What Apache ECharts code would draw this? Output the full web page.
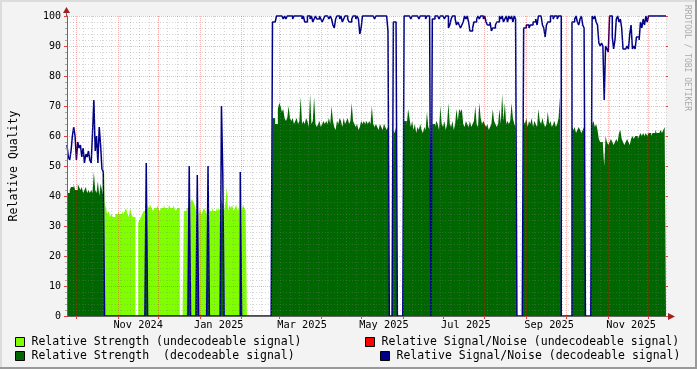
<!DOCTYPE html>
<html><head><meta charset="utf-8">
<script src="https://cdn.jsdelivr.net/npm/echarts@6/dist/echarts.min.js"></script>
<style>html,body{margin:0;padding:0;background:#F3F3F3}#c{width:697px;height:369px}</style>
</head><body><div id="c"></div>
<script>
// ---- data (one value per day, starting at firstDay) ----
const firstDay = '2024-09-24';
const dayCount = 447;
const monthLabels = ['Nov 2024','Jan 2025','Mar 2025','May 2025','Jul 2025','Sep 2025','Nov 2025'];
const monthLabelDays = ['2024-11-16','2025-01-15','2025-03-18','2025-05-18','2025-07-18','2025-09-18','2025-11-18'];
const seriesNames = [
  'Relative Strength (undecodeable signal)',
  'Relative Signal/Noise (undecodeable signal)',
  'Relative Strength  (decodeable signal)',
  'Relative Signal/Noise (decodeable signal)'
];
const strengthUndecoded = [
/*0*/ 0,0,0,0,0,0,0,0,0,0,
/*10*/ 0,0,0,0,0,0,0,0,0,0,
/*20*/ 0,0,0,0,0,0,0,64,38,36,
/*30*/ 34,35,33,34,33,33,34,34,35,34,
/*40*/ 34,35,34,35,36,34,33,36,34,33,
/*50*/ 33,0,0,31,32,33,34,35,35,0,
/*60*/ 37,36,37,36,35,36,36,37,36,35,
/*70*/ 36,36,37,36,36,35,37,36,36,37,
/*80*/ 36,35,36,36,0,0,0,35,35,36,
/*90*/ 36,0,38,39,38,37,35,0,34,36,
/*100*/ 34,35,36,35,34,0,35,35,36,35,
/*110*/ 35,36,35,36,35,0,0,35,38,43,
/*120*/ 35,37,36,37,35,36,37,35,36,0,
/*130*/ 35,37,36,35,0,0,0,0,0,0
];
const snrUndecoded = [];
const strengthDecoded = [
/*0*/ 41,41,42,43,43,44,42,42,44,43,
/*10*/ 42,43,41,42,43,41,42,41,42,41,
/*20*/ 48,42,41,45,40,44,42,40,0,0,
/*30*/ 0,0,0,0,0,0,0,0,0,0,
/*40*/ 0,0,0,0,0,0,0,0,0,0,
/*50*/ 0,0,0,0,0,0,0,0,0,38,
/*60*/ 0,0,0,0,0,0,0,0,0,0,
/*70*/ 0,0,0,0,0,0,0,0,0,0,
/*80*/ 0,0,0,0,0,0,0,0,0,0,
/*90*/ 0,37,0,0,0,0,0,36,0,0,
/*100*/ 0,0,0,0,0,36,0,0,0,0,
/*110*/ 0,0,0,0,0,39,37,0,0,0,
/*120*/ 0,0,0,0,0,0,0,0,0,36,
/*130*/ 0,0,0,0,0,0,0,0,0,0,
/*140*/ 0,0,0,0,0,0,0,0,0,0,
/*150*/ 0,0,0,66,66,64,64,69,71,70,
/*160*/ 68,69,66,65,66,70,66,65,66,64,
/*170*/ 65,66,64,65,73,64,65,64,66,65,
/*180*/ 63,74,64,65,73,64,63,64,65,63,
/*190*/ 64,65,64,65,64,66,64,70,65,63,
/*200*/ 62,65,64,66,65,63,66,64,65,66,
/*210*/ 64,65,71,65,64,63,64,62,63,65,
/*220*/ 64,65,64,65,64,65,64,70,64,63,
/*230*/ 64,63,62,64,63,62,64,63,62,63,
/*240*/ 0,0,0,62,61,63,0,0,0,0,
/*250*/ 0,65,65,64,69,66,63,65,62,64,
/*260*/ 61,63,62,64,62,61,63,62,68,63,
/*270*/ 62,0,64,64,63,65,64,62,70,64,
/*280*/ 63,65,62,64,71,64,63,65,62,64,
/*290*/ 69,65,69,68,69,64,63,65,64,63,
/*300*/ 65,63,64,65,70,64,63,71,66,64,
/*310*/ 65,64,63,64,62,63,64,69,65,64,
/*320*/ 63,64,69,64,74,65,71,64,65,64,
/*330*/ 65,71,66,64,63,0,0,0,0,0,
/*340*/ 65,64,66,63,65,64,66,63,65,64,
/*350*/ 63,69,65,64,66,64,63,64,68,64,
/*360*/ 65,63,64,65,63,64,66,73,0,0,
/*370*/ 0,0,0,0,0,0,63,62,63,61,
/*380*/ 62,63,62,61,62,63,0,0,0,0,
/*390*/ 0,64,65,63,64,62,59,58,58,57,
/*400*/ 50,60,58,57,58,59,58,57,58,59,
/*410*/ 58,61,62,59,58,57,58,59,58,57,
/*420*/ 59,60,59,60,60,59,60,61,60,61,
/*430*/ 60,61,60,61,61,60,61,61,62,61,
/*440*/ 61,61,62,61,62,63,63
];
const snrDecoded = [
/*0*/ 57,53,52,55,60,63,60,52,58,56,
/*10*/ 57,53,56,51,54,53,55,52,51,61,
/*20*/ 72,55,60,51,63,57,49,48,0,0,
/*30*/ 0,0,0,0,0,0,0,0,0,0,
/*40*/ 0,0,0,0,0,0,0,0,0,0,
/*50*/ 0,0,0,0,0,0,0,0,0,51,
/*60*/ 0,0,0,0,0,0,0,0,0,0,
/*70*/ 0,0,0,0,0,0,0,0,0,0,
/*80*/ 0,0,0,0,0,0,0,0,0,0,
/*90*/ 0,50,0,0,0,0,0,47,0,0,
/*100*/ 0,0,0,0,0,50,0,0,0,0,
/*110*/ 0,0,0,0,0,70,47,0,0,0,
/*120*/ 0,0,0,0,0,0,0,0,0,48,
/*130*/ 0,0,0,0,0,0,0,0,0,0,
/*140*/ 0,0,0,0,0,0,0,0,0,0,
/*150*/ 0,0,0,98,98,98,100,100,100,100,
/*160*/ 100,99,100,99,100,100,100,100,99,100,
/*170*/ 100,100,100,100,100,99,100,98,98,100,
/*180*/ 100,99,100,98,99,100,99,99,100,99,
/*190*/ 98,99,100,100,100,99,100,99,97,96,
/*200*/ 99,100,100,99,100,98,99,100,100,99,
/*210*/ 98,98,99,100,100,99,100,99,94,96,
/*220*/ 100,100,100,100,100,100,100,100,100,99,
/*230*/ 100,100,100,100,100,100,100,100,100,95,
/*240*/ 0,0,0,98,98,98,0,0,0,0,
/*250*/ 0,100,100,100,100,100,99,100,100,100,
/*260*/ 100,100,99,100,100,100,100,99,100,100,
/*270*/ 99,0,99,99,100,100,100,99,100,100,
/*280*/ 100,99,100,100,96,97,99,100,100,99,
/*290*/ 97,98,97,96,97,98,100,99,100,98,
/*300*/ 95,95,96,98,98,99,100,99,100,100,
/*310*/ 99,100,98,97,97,98,95,96,96,97,
/*320*/ 98,98,100,99,100,98,99,100,98,100,
/*330*/ 99,100,98,100,99,0,0,0,0,0,
/*340*/ 96,96,97,97,96,97,97,98,98,99,
/*350*/ 97,100,100,100,97,96,93,97,98,98,
/*360*/ 100,100,99,100,100,99,100,100,0,0,
/*370*/ 0,0,0,0,0,0,98,98,99,100,
/*380*/ 98,97,99,100,97,96,0,0,0,0,
/*390*/ 0,100,99,100,98,97,91,90,91,90,
/*400*/ 72,90,89,88,100,100,93,89,92,99,
/*410*/ 100,98,99,96,89,89,89,90,89,94,
/*420*/ 97,89,90,89,93,93,92,98,96,99,
/*430*/ 97,100,98,100,100,100,100,100,100,100,
/*440*/ 100,100,100,100,100,100,100
];

// ---- build chart ----
const t0 = Date.parse(firstDay + 'T00:00:00Z');
const days = [];
for (let i = 0; i < dayCount; i++) days.push(new Date(t0 + i * 86400000).toISOString().slice(0, 10));
const isMonthStart = (i, v) => days[i].endsWith('-01');
const isSunday = (i, v) => new Date(days[i] + 'T00:00:00Z').getUTCDay() === 0;

const MONO = 'DejaVu Sans Mono';
const majorGrid = { color: 'rgba(255,0,0,0.28)', type: [1, 1], width: 1 };
const minorGrid = { color: 'rgba(128,128,128,0.32)', type: [1, 2], width: 1 };

const legendBase = {
  orient: 'horizontal', padding: 0, itemGap: 0, itemWidth: 9, itemHeight: 9,
  icon: 'rect', selectedMode: false,
  itemStyle: { borderColor: '#000', borderWidth: 1 },
  textStyle: { fontFamily: MONO, fontSize: 11.5, color: '#000', lineHeight: 14, padding: [0, 0, 0, 2] }
};

const areaSeries = (name, data, color) => ({
  name, type: 'line', data, step: 'end', symbol: 'none', color,
  itemStyle: { color },
  lineStyle: { width: 0, opacity: 0 },
  areaStyle: { color, opacity: 1 },
  silent: true, z: 2
});

const chart = echarts.init(document.getElementById('c'), null, { renderer: 'canvas' });
chart.setOption({
  animation: false,
  backgroundColor: '#F3F3F3',
  grid: { left: 66, right: 31, top: 16, bottom: 53, show: true, backgroundColor: '#FFFFFF', borderWidth: 0 },
  legend: [
    Object.assign({}, legendBase, { data: [seriesNames[0]], left: 15, top: 335 }),
    Object.assign({}, legendBase, { data: [seriesNames[1]], left: 365, top: 335 }),
    Object.assign({}, legendBase, { data: [seriesNames[2]], left: 15, top: 349 }),
    Object.assign({}, legendBase, { data: [seriesNames[3]], left: 380, top: 349 })
  ],
  xAxis: [
    {
      type: 'category', data: days, boundaryGap: false, position: 'bottom', z: 10,
      axisLine: { show: true, lineStyle: { color: '#666', width: 1 } },
      axisTick: { show: true, interval: isMonthStart, length: 3, lineStyle: { color: '#E04040' } },
      axisLabel: {
        interval: (i, v) => monthLabelDays.indexOf(v) >= 0,
        formatter: v => monthLabels[monthLabelDays.indexOf(v)] || '',
        fontFamily: MONO, fontSize: 10.3, color: '#000', margin: 4
      },
      splitLine: { show: true, interval: isMonthStart, lineStyle: majorGrid }
    },
    {
      type: 'category', data: days, boundaryGap: false, position: 'bottom', z: 9,
      axisLine: { show: false }, axisTick: { show: false }, axisLabel: { show: false },
      splitLine: { show: true, interval: isSunday, lineStyle: minorGrid }
    }
  ],
  yAxis: [
    {
      type: 'value', min: 0, max: 100, interval: 10, position: 'left', z: 10,
      axisLine: { show: true, lineStyle: { color: '#666', width: 1 } },
      axisTick: { show: true, length: 3, lineStyle: { color: '#E04040' } },
      minorTick: { show: true, splitNumber: 5, length: 2, lineStyle: { color: '#AAA' } },
      axisLabel: { fontFamily: MONO, fontSize: 10, color: '#000', margin: 6 },
      splitLine: { show: true, lineStyle: majorGrid },
      minorSplitLine: { show: true, lineStyle: minorGrid },
      name: 'Relative Quality', nameLocation: 'middle', nameGap: 47,
      nameTextStyle: { fontFamily: MONO, fontSize: 11.5, color: '#000' }
    },
    {
      type: 'value', min: 0, max: 100, interval: 10, position: 'right', z: 10,
      axisLine: { show: false },
      axisTick: { show: true, length: 2, lineStyle: { color: '#E04040' } },
      axisLabel: { show: false }, splitLine: { show: false }
    }
  ],
  series: [
    areaSeries(seriesNames[0], strengthUndecoded, '#80FF00'),
    { name: seriesNames[1], type: 'line', data: snrUndecoded, symbol: 'none', color: '#FF0000',
      itemStyle: { color: '#FF0000' }, lineStyle: { width: 1.5, color: '#FF0000' } },
    areaSeries(seriesNames[2], strengthDecoded, '#006600'),
    { name: seriesNames[3], type: 'line', data: snrDecoded, step: 'end', symbol: 'none', color: '#000088',
      itemStyle: { color: '#000088' }, lineStyle: { width: 1.5, color: '#000088' },
      clip: false, silent: true, z: 3 }
  ],
  graphic: [
    { type: 'rect', shape: { x: 0, y: 0, width: 697, height: 2 }, style: { fill: '#DCDCDC' }, silent: true },
    { type: 'rect', shape: { x: 0, y: 0, width: 2, height: 369 }, style: { fill: '#DCDCDC' }, silent: true },
    { type: 'rect', shape: { x: 0, y: 367, width: 697, height: 2 }, style: { fill: '#999999' }, silent: true },
    { type: 'rect', shape: { x: 695, y: 0, width: 2, height: 369 }, style: { fill: '#999999' }, silent: true },
    { type: 'line', shape: { x1: 666, y1: 316.5, x2: 669, y2: 316.5 }, style: { stroke: '#666', lineWidth: 1 }, silent: true },
    { type: 'polygon', shape: { points: [[668, 313], [675, 316.5], [668, 320]] }, style: { fill: '#A02020' }, silent: true },
    { type: 'line', shape: { x1: 66.5, y1: 16, x2: 66.5, y2: 12 }, style: { stroke: '#666', lineWidth: 1 }, silent: true },
    { type: 'polygon', shape: { points: [[63, 13], [66.5, 7], [70, 13]] }, style: { fill: '#A02020' }, silent: true },
    { type: 'text', x: 687, y: 5, rotation: -Math.PI / 2,
      style: { text: 'RRDTOOL / TOBI OETIKER', font: '8px "DejaVu Sans Mono"', fill: '#AAAAAA', textAlign: 'left', textVerticalAlign: 'middle' },
      silent: true }
  ]
});
</script>
</body></html>
